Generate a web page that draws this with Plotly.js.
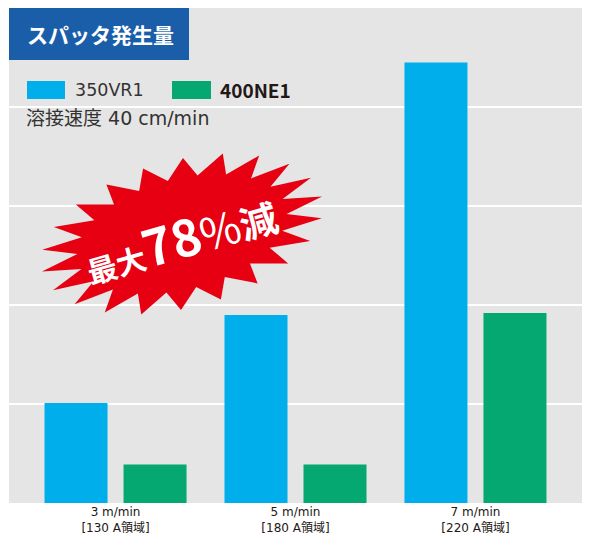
<!DOCTYPE html>
<html>
<head>
<meta charset="utf-8">
<script src="https://cdn.plot.ly/plotly-3.0.1.min.js"></script>
<style>
  html, body { margin: 0; padding: 0; background: #fff; }
  #chart { width: 592px; height: 547px; }
</style>
</head>
<body>
<div id="chart"></div>
<script>
// categories and values (spatter amount, arbitrary units)
var categories = ['3 m/min<br>[130 A領域]', '5 m/min<br>[180 A領域]', '7 m/min<br>[220 A領域]'];
var vr1Values = [1.01, 1.90, 4.45];
var ne1Values = [0.39, 0.39, 1.92];
var seriesNames = ['350VR1', '400NE1'];

var W = 592, H = 547;
var L = 9, R = 10, T = 8, B = 44;
var pw = W - L - R, ph = H - T - B;
// pixel -> paper coords for the decorations
function px(x) { return (x - L) / pw; }
function py(y) { return (H - B - y) / ph; }

var blue = '#00aeeb', green = '#05a870';
var jp = '"Noto Sans CJK JP", "Noto Sans", sans-serif';
var wide = '"DejaVu Sans", "Noto Sans CJK JP", sans-serif';

var data = [
  { x: categories, y: vr1Values, name: seriesNames[0], type: 'bar',
    marker: { color: blue }, hoverinfo: 'y' },
  { x: categories, y: ne1Values, name: seriesNames[1], type: 'bar',
    marker: { color: green }, hoverinfo: 'y' }
];

// starburst badge
function starPath(cx, cy, a, b, n, inner, rotDeg) {
  var rot = rotDeg * Math.PI / 180, d = '';
  for (var i = 0; i < n * 2; i++) {
    var t = Math.PI * i / n;
    var k = (i % 2 == 0) ? 1 : inner;
    var ex = a * k * Math.cos(t), ey = b * k * Math.sin(t);
    var x = cx + ex * Math.cos(rot) + ey * Math.sin(rot);
    var y = cy - ex * Math.sin(rot) + ey * Math.cos(rot);
    d += (i == 0 ? 'M' : 'L') + px(x).toFixed(4) + ',' + py(y).toFixed(4);
  }
  return d + 'Z';
}

var shapes = [
  { type: 'rect', xref: 'paper', yref: 'paper', x0: 0, x1: px(189), y0: py(60), y1: 1,
    fillcolor: '#1a5eaa', line: { width: 0 }, layer: 'above' },
  { type: 'rect', xref: 'paper', yref: 'paper', x0: px(27), x1: px(65), y0: py(99), y1: py(81),
    fillcolor: blue, line: { width: 0 } },
  { type: 'rect', xref: 'paper', yref: 'paper', x0: px(172), x1: px(211), y0: py(99), y1: py(81),
    fillcolor: green, line: { width: 0 } },
  { type: 'path', xref: 'paper', yref: 'paper', path: starPath(182, 234, 145, 74, 22, 0.74, 15),
    fillcolor: '#e60012', line: { width: 0 }, layer: 'above' }
];

var annotations = [
  { xref: 'paper', yref: 'paper', x: px(25), y: py(34), xanchor: 'left', yanchor: 'middle',
    text: '<b>スパッタ発生量</b>', showarrow: false, font: { family: jp, size: 21, color: '#fff' } },
  { xref: 'paper', yref: 'paper', x: px(73), y: py(90), xanchor: 'left', yanchor: 'middle',
    text: seriesNames[0], showarrow: false, font: { family: wide, size: 17.5, color: '#333' } },
  { xref: 'paper', yref: 'paper', x: px(218), y: py(90), xanchor: 'left', yanchor: 'middle',
    text: '<b>' + seriesNames[1] + '</b>', showarrow: false, font: { family: jp, size: 19, color: '#231815' } },
  { xref: 'paper', yref: 'paper', x: px(24), y: py(118), xanchor: 'left', yanchor: 'middle',
    text: '溶接速度 40 cm/min', showarrow: false, font: { family: wide, size: 19, color: '#333' } },
  { xref: 'paper', yref: 'paper', x: px(180), y: py(236), xanchor: 'center', yanchor: 'middle',
    textangle: -16, showarrow: false, font: { family: jp, size: 38, color: '#fff' },
    text: '<b><span style="font-size:30px">最大</span><span style="font-size:50px">78</span></b>' +
          '<span style="font-size:44px">%</span><b>減</b>' }
];

var layout = {
  width: W, height: H,
  margin: { l: L, r: R, t: T, b: B, pad: 0 },
  paper_bgcolor: '#fff',
  plot_bgcolor: '#e5e5e5',
  showlegend: false,
  barmode: 'group',
  bargap: 0.122,
  bargroupgap: 0.2025,
  xaxis: {
    range: [-0.592, 2.592],
    showgrid: false, zeroline: false, showline: false, ticks: '',
    tickfont: { family: wide, size: 12, color: '#231815' },
    fixedrange: true
  },
  yaxis: {
    range: [0, 5], dtick: 1,
    showgrid: true, gridcolor: '#fff', gridwidth: 2,
    zeroline: false, showticklabels: false, ticks: '',
    fixedrange: true
  },
  shapes: shapes,
  annotations: annotations
};

Plotly.newPlot('chart', data, layout, { displayModeBar: false, staticPlot: true });
</script>
</body>
</html>
